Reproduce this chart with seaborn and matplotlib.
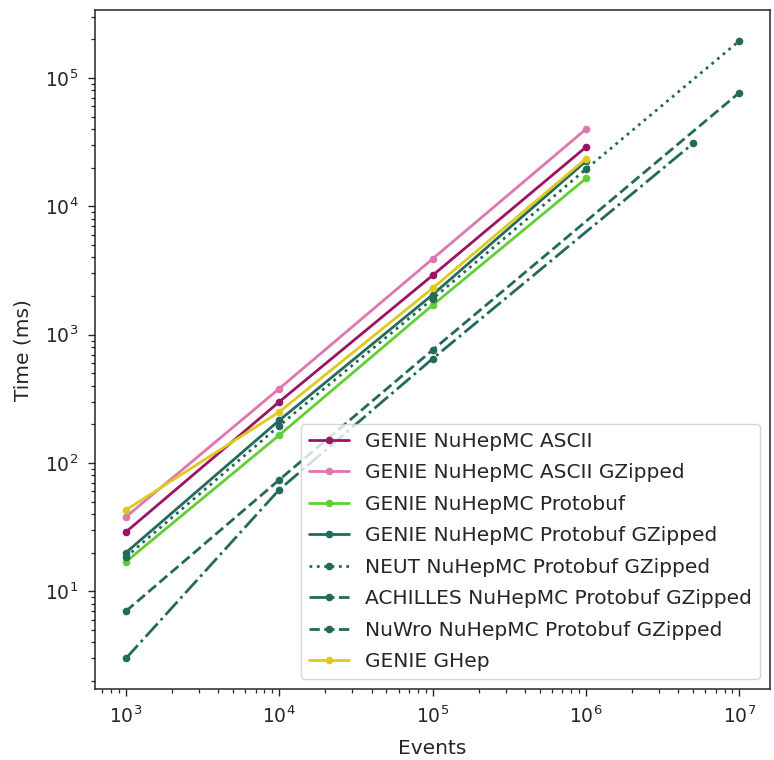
import pandas as pd
import matplotlib.pyplot as plt
import seaborn as sns

sns.set_style("ticks")
plt.rcParams["font.family"] = ["DejaVu Sans"]

# timing data (events, ms)
genie_events = [1e3, 1e4, 1e5, 1e6]
genie_ascii = [29, 300, 2900, 29000]
genie_ascii_gz = [38, 380, 3900, 40000]
genie_pb = [17, 165, 1700, 16500]
genie_pb_gz = [20, 215, 2050, 22500]
genie_ghep = [43, 250, 2300, 23500]

neut_events = [1e3, 1e4, 1e5, 1e6, 1e7]
neut_pb_gz = [18.5, 195, 1900, 19500, 195000]

achilles_events = [1e3, 1e4, 1e5, 5e6]
achilles_pb_gz = [3, 62, 650, 31000]

nuwro_events = [1e3, 1e4, 1e5, 1e7]
nuwro_pb_gz = [7, 74, 760, 77000]

series = [
    ("GENIE NuHepMC ASCII", genie_events, genie_ascii, "#9b1463", "-"),
    ("GENIE NuHepMC ASCII GZipped", genie_events, genie_ascii_gz, "#de77ae", "-"),
    ("GENIE NuHepMC Protobuf", genie_events, genie_pb, "#5fcf35", "-"),
    ("GENIE NuHepMC Protobuf GZipped", genie_events, genie_pb_gz, "#236a5a", "-"),
    ("NEUT NuHepMC Protobuf GZipped", neut_events, neut_pb_gz, "#236a5a", ":"),
    ("ACHILLES NuHepMC Protobuf GZipped", achilles_events, achilles_pb_gz, "#236a5a", "-."),
    ("NuWro NuHepMC Protobuf GZipped", nuwro_events, nuwro_pb_gz, "#236a5a", "--"),
    ("GENIE GHep", genie_events, genie_ghep, "#dccb1e", "-"),
]

fig = plt.figure(figsize=(7.74, 7.6), dpi=100)
ax = fig.add_axes([0.123, 0.093, 0.872, 0.894])

for label, x, y, color, ls in series:
    df = pd.DataFrame({"Events": x, "Time": y})
    sns.lineplot(data=df, x="Events", y="Time", ax=ax, color=color, linestyle=ls,
                 marker="o", markersize=5.5, markeredgewidth=0, linewidth=2, label=label)

ax.set_xscale("log")
ax.set_yscale("log")
ax.set_xlabel("Events", fontsize=14.5, labelpad=8)
ax.set_ylabel("Time (ms)", fontsize=14.5, labelpad=9)
ax.tick_params(which="major", labelsize=13.5, length=5, width=1.0, pad=7)
ax.tick_params(which="minor", length=3, width=0.9)
for sp in ax.spines.values():
    sp.set_linewidth(1.1)
ax.legend(loc="lower right", fontsize=14.5, labelspacing=0.62)

fig.savefig("out.png", dpi=100)
